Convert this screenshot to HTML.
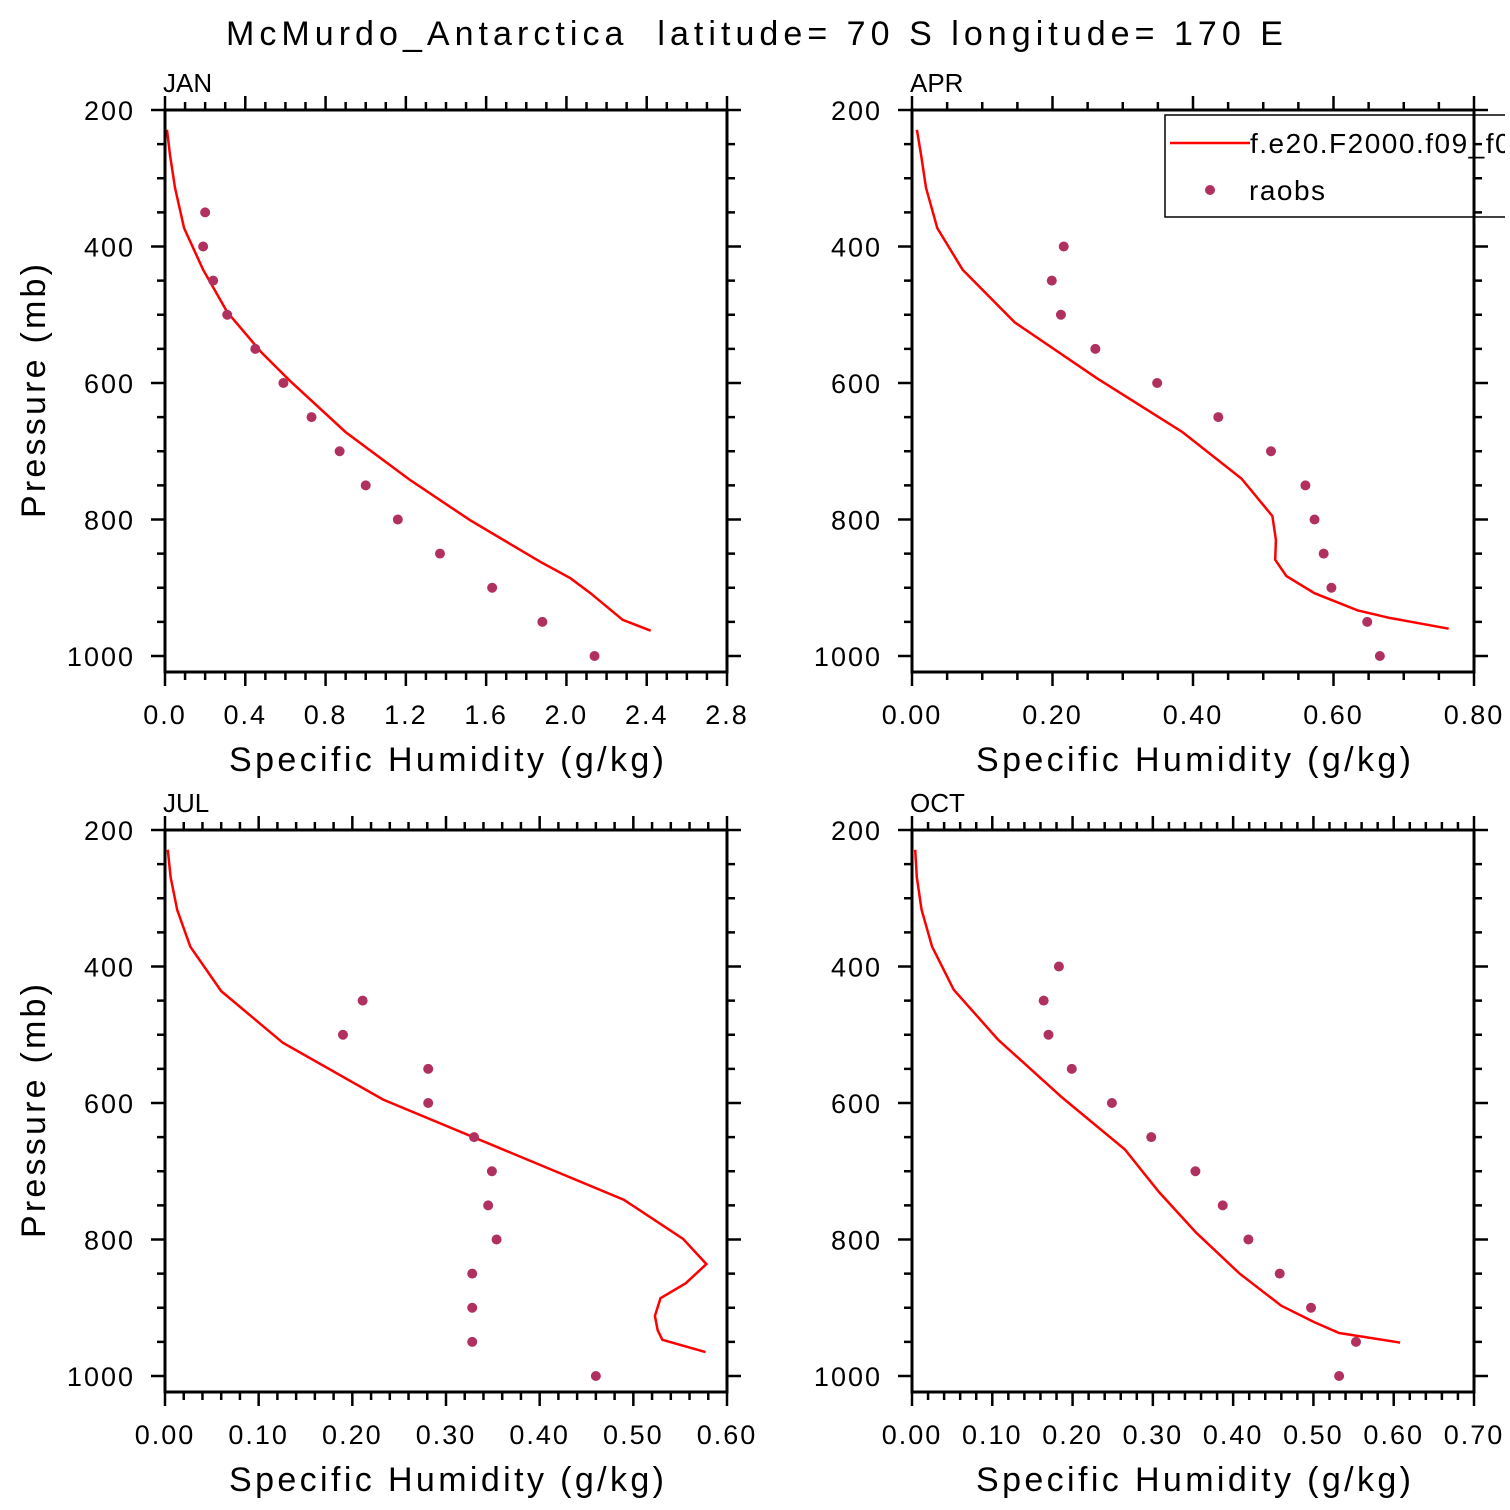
<!DOCTYPE html>
<html><head><meta charset="utf-8"><style>
html,body{margin:0;padding:0;background:#fff;}
svg{display:block;font-family:"Liberation Sans",sans-serif;}
</style></head><body>
<svg id="chart" width="1510" height="1510" viewBox="0 0 1510 1510" xmlns="http://www.w3.org/2000/svg">
<defs><clipPath id="legclip"><rect x="0" y="0" width="1505" height="1510"/></clipPath></defs>
<text x="226" y="45" font-size="34" textLength="1057" lengthAdjust="spacing" xml:space="preserve">McMurdo_Antarctica  latitude= 70 S longitude= 170 E</text>
</svg>
<script>
// Panel data
const janLineP=[229,266,314,373,434,496,555,596,672,742,801,862,886,908,947,963];
const janLineQ=[0.01,0.025,0.05,0.095,0.19,0.31,0.48,0.62,0.90,1.22,1.52,1.87,2.02,2.12,2.28,2.42];
const janObsP=[350,400,450,500,550,600,650,700,750,800,850,900,950,1000];
const janObsQ=[0.20,0.19,0.24,0.31,0.45,0.59,0.73,0.87,1.00,1.16,1.37,1.63,1.88,2.14];
const aprLineP=[229,266,314,373,434,511,593,672,740,795,830,859,883,908,933,944,960];
const aprLineQ=[0.007,0.013,0.02,0.036,0.072,0.146,0.263,0.385,0.469,0.513,0.518,0.517,0.533,0.573,0.634,0.679,0.764];
const aprObsP=[400,450,500,550,600,650,700,750,800,850,900,950,1000];
const aprObsQ=[0.216,0.199,0.212,0.261,0.349,0.436,0.511,0.560,0.573,0.586,0.597,0.648,0.666];
const julLineP=[229,269,317,371,436,512,595,742,799,836,864,886,912,933,947,965];
const julLineQ=[0.003,0.006,0.013,0.027,0.060,0.126,0.233,0.490,0.553,0.578,0.556,0.529,0.523,0.526,0.531,0.577];
const julObsP=[450,500,550,600,650,700,750,800,850,900,950,1000];
const julObsQ=[0.211,0.190,0.281,0.281,0.330,0.349,0.345,0.354,0.328,0.328,0.328,0.460];
const octLineP=[229,269,317,371,434,507,592,668,731,790,850,897,921,937,951];
const octLineQ=[0.004,0.006,0.012,0.025,0.052,0.107,0.187,0.265,0.308,0.354,0.408,0.460,0.501,0.532,0.608];
const octObsP=[400,450,500,550,600,650,700,750,800,850,900,950,1000];
const octObsQ=[0.183,0.164,0.170,0.199,0.249,0.298,0.353,0.387,0.419,0.458,0.497,0.553,0.532];
const yTickLabels=["200","400","600","800","1000"];
const janXLabels=["0.0","0.4","0.8","1.2","1.6","2.0","2.4","2.8"];
const aprXLabels=["0.00","0.20","0.40","0.60","0.80"];
const julXLabels=["0.00","0.10","0.20","0.30","0.40","0.50","0.60"];
const octXLabels=["0.00","0.10","0.20","0.30","0.40","0.50","0.60","0.70"];

const NS="http://www.w3.org/2000/svg";
const svg=document.getElementById('chart');
function mk(tag,attrs,parent){const e=document.createElementNS(NS,tag);for(const k in attrs)e.setAttribute(k,attrs[k]);(parent||svg).appendChild(e);return e;}

const panels=[
 {name:'jan',label:'JAN',x0:165,y0:110,xmax:2.8,major:0.4,minorN:4,labels:janXLabels,lp:janLineP,lq:janLineQ,op:janObsP,oq:janObsQ,ytitle:true},
 {name:'apr',label:'APR',x0:912,y0:110,xmax:0.8,major:0.2,minorN:4,labels:aprXLabels,lp:aprLineP,lq:aprLineQ,op:aprObsP,oq:aprObsQ,ytitle:false,legend:true},
 {name:'jul',label:'JUL',x0:165,y0:830,xmax:0.6,major:0.1,minorN:5,labels:julXLabels,lp:julLineP,lq:julLineQ,op:julObsP,oq:julObsQ,ytitle:true},
 {name:'oct',label:'OCT',x0:912,y0:830,xmax:0.7,major:0.1,minorN:5,labels:octXLabels,lp:octLineP,lq:octLineQ,op:octObsP,oq:octObsQ,ytitle:false}
];
const W=562,H=562,pxPerMb=0.6825;
panels.forEach(P=>{
 const g=mk('g',{});
 
 
 const xs=q=>P.x0+q/P.xmax*W;
 const ys=p=>P.y0+(p-200)*pxPerMb;
 const nMaj=Math.round(P.xmax/P.major);
 for(let i=0;i<=nMaj*P.minorN;i++){
  const x=P.x0+i*W/(nMaj*P.minorN);
  const len=(i%P.minorN===0)?14:8;
  mk('line',{x1:x,x2:x,y1:P.y0+H,y2:P.y0+H+len,stroke:'#000','stroke-width':2.5},g);
  mk('line',{x1:x,x2:x,y1:P.y0,y2:P.y0-len,stroke:'#000','stroke-width':2.5},g);
 }
 for(let p=200;p<=1000;p+=50){
  const y=ys(p);const len=(p%200===0)?14:8;
  mk('line',{x1:P.x0,x2:P.x0-len,y1:y,y2:y,stroke:'#000','stroke-width':2.5},g);
  mk('line',{x1:P.x0+W,x2:P.x0+W+len,y1:y,y2:y,stroke:'#000','stroke-width':2.5},g);
 }
 P.labels.forEach((t,i)=>{
  const e=mk('text',{x:P.x0+i*W/nMaj,y:P.y0+H+52,'font-size':27,'text-anchor':'middle','letter-spacing':2},g);e.textContent=t;
  
  
 });
 yTickLabels.forEach((t,i)=>{
  const e=mk('text',{x:P.x0-30,y:ys(200+i*200)+10,'font-size':27,'text-anchor':'end','letter-spacing':2},g);e.textContent=t;
  
  
 });
 const xt=mk('text',{x:P.x0+64,y:P.y0+H+99,'font-size':34,textLength:435,lengthAdjust:'spacing'},g);xt.textContent='Specific Humidity (g/kg)';
 
 
 if(P.ytitle){
  const yt=mk('text',{x:0,y:0,'font-size':34,textLength:254,lengthAdjust:'spacing',transform:`translate(45,${P.y0+408}) rotate(-90)`},g);yt.textContent='Pressure (mb)';
  
  
 }
 const lb=mk('text',{x:P.x0-2,y:P.y0-18,'font-size':26},g);lb.textContent=P.label;
 
 
 const pts=P.lp.map((p,i)=>xs(P.lq[i]).toFixed(1)+','+ys(p).toFixed(1)).join(' ');
 const pl=mk('polyline',{points:pts,fill:'none',stroke:'#ff0000','stroke-width':2.5},g);
 
 
 P.op.forEach((p,i)=>{
  const c=mk('circle',{cx:xs(P.oq[i]),cy:ys(p),r:5,fill:'#b03060'},g);
  
  
 });
 const fr=mk('rect',{x:P.x0,y:P.y0,width:W,height:H,fill:'none',stroke:'#000','stroke-width':3},g);
 
 
 if(P.legend){
  const lg=mk('g',{'clip-path':'url(#legclip)'});
  
  
  mk('rect',{x:1165,y:115,width:360,height:102,fill:'none',stroke:'#000','stroke-width':1.5},lg);
  mk('line',{x1:1170,x2:1250,y1:143,y2:143,stroke:'#ff0000','stroke-width':2.5},lg);
  const t1=mk('text',{x:1250,y:153,'font-size':28,'letter-spacing':1.5},lg);t1.textContent='f.e20.F2000.f09_f09';
  
  
  mk('circle',{cx:1210,cy:190,r:5,fill:'#b03060'},lg);
  const t2=mk('text',{x:1249,y:200,'font-size':28,'letter-spacing':1.5},lg);t2.textContent='raobs';
  
  
 }
});
</script>
</body></html>
